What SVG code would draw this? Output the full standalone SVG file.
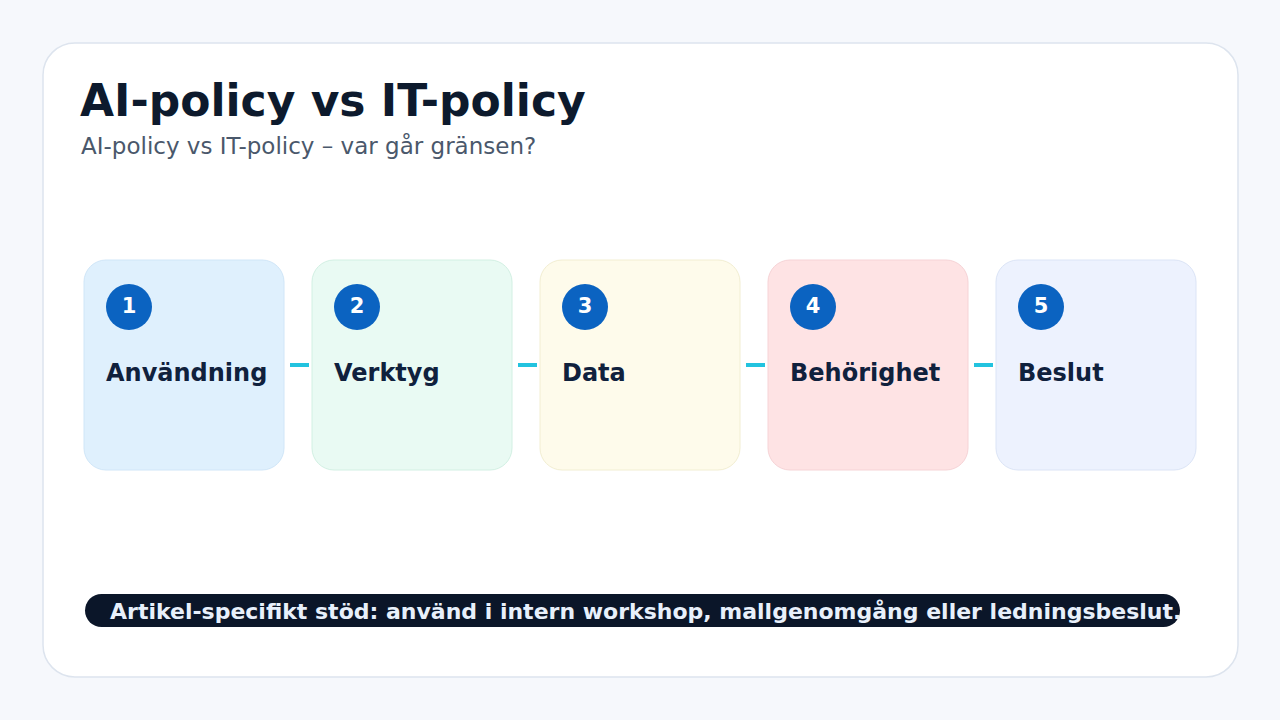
<svg xmlns="http://www.w3.org/2000/svg" width="1280" height="720" viewBox="0 0 1280 720">
  <style>
    .title { font-family: "DejaVu Sans", "Liberation Sans", sans-serif; font-weight: bold; font-size: 44px; fill: #0d1a2d; }
    .sub { font-family: "DejaVu Sans", "Liberation Sans", sans-serif; font-size: 23px; fill: #4a586b; }
    .box { stroke-width: 1; }
    .badge { fill: #0b63c1; }
    .num { font-family: "DejaVu Sans", "Liberation Sans", sans-serif; font-weight: bold; font-size: 21px; fill: #ffffff; text-anchor: middle; }
    .label { font-family: "DejaVu Sans", "Liberation Sans", sans-serif; font-weight: bold; font-size: 24px; fill: #10213d; }
    .conn { stroke: #22c3df; stroke-width: 4; }
    .banner-text { font-family: "DejaVu Sans", "Liberation Sans", sans-serif; font-weight: bold; font-size: 22px; fill: #e8f0fb; }
  </style>
  <rect x="0" y="0" width="1280" height="720" fill="#f6f8fc"/>
  <rect id="card" x="43" y="43" width="1195" height="634" rx="32" fill="#ffffff" stroke="#dde4ee" stroke-width="1.5"/>
  <text class="title" x="80" y="116">AI-policy vs IT-policy</text>
  <text class="sub" x="81" y="154">AI-policy vs IT-policy – var går gränsen?</text>

  <g id="connectors">
    <line class="conn" x1="290" y1="365" x2="309" y2="365"/>
    <line class="conn" x1="518" y1="365" x2="537" y2="365"/>
    <line class="conn" x1="746" y1="365" x2="765" y2="365"/>
    <line class="conn" x1="974" y1="365" x2="993" y2="365"/>
  </g>

  <g id="node1">
    <rect class="box" x="84" y="260" width="200" height="210" rx="22" fill="#dff0fd" stroke="#d0e6f8"/>
    <circle class="badge" cx="129" cy="307" r="23"/>
    <text class="num" x="129" y="313">1</text>
    <text class="label" x="106" y="381">Användning</text>
  </g>
  <g id="node2">
    <rect class="box" x="312" y="260" width="200" height="210" rx="22" fill="#e9faf3" stroke="#d2f0e3"/>
    <circle class="badge" cx="357" cy="307" r="23"/>
    <text class="num" x="357" y="313">2</text>
    <text class="label" x="334" y="381">Verktyg</text>
  </g>
  <g id="node3">
    <rect class="box" x="540" y="260" width="200" height="210" rx="22" fill="#fefbeb" stroke="#f2eed2"/>
    <circle class="badge" cx="585" cy="307" r="23"/>
    <text class="num" x="585" y="313">3</text>
    <text class="label" x="562" y="381">Data</text>
  </g>
  <g id="node4">
    <rect class="box" x="768" y="260" width="200" height="210" rx="22" fill="#fee3e4" stroke="#f6d3d6"/>
    <circle class="badge" cx="813" cy="307" r="23"/>
    <text class="num" x="813" y="313">4</text>
    <text class="label" x="790" y="381">Behörighet</text>
  </g>
  <g id="node5">
    <rect class="box" x="996" y="260" width="200" height="210" rx="22" fill="#edf2fe" stroke="#dbe4f6"/>
    <circle class="badge" cx="1041" cy="307" r="23"/>
    <text class="num" x="1041" y="313">5</text>
    <text class="label" x="1018" y="381">Beslut</text>
  </g>

  <g id="banner">
    <rect x="85" y="594" width="1095" height="33" rx="16.5" fill="#0b1629"/>
    <text class="banner-text" x="110" y="619">Artikel-specifikt stöd: använd i intern workshop, mallgenomgång eller ledningsbeslut.</text>
  </g>
</svg>
